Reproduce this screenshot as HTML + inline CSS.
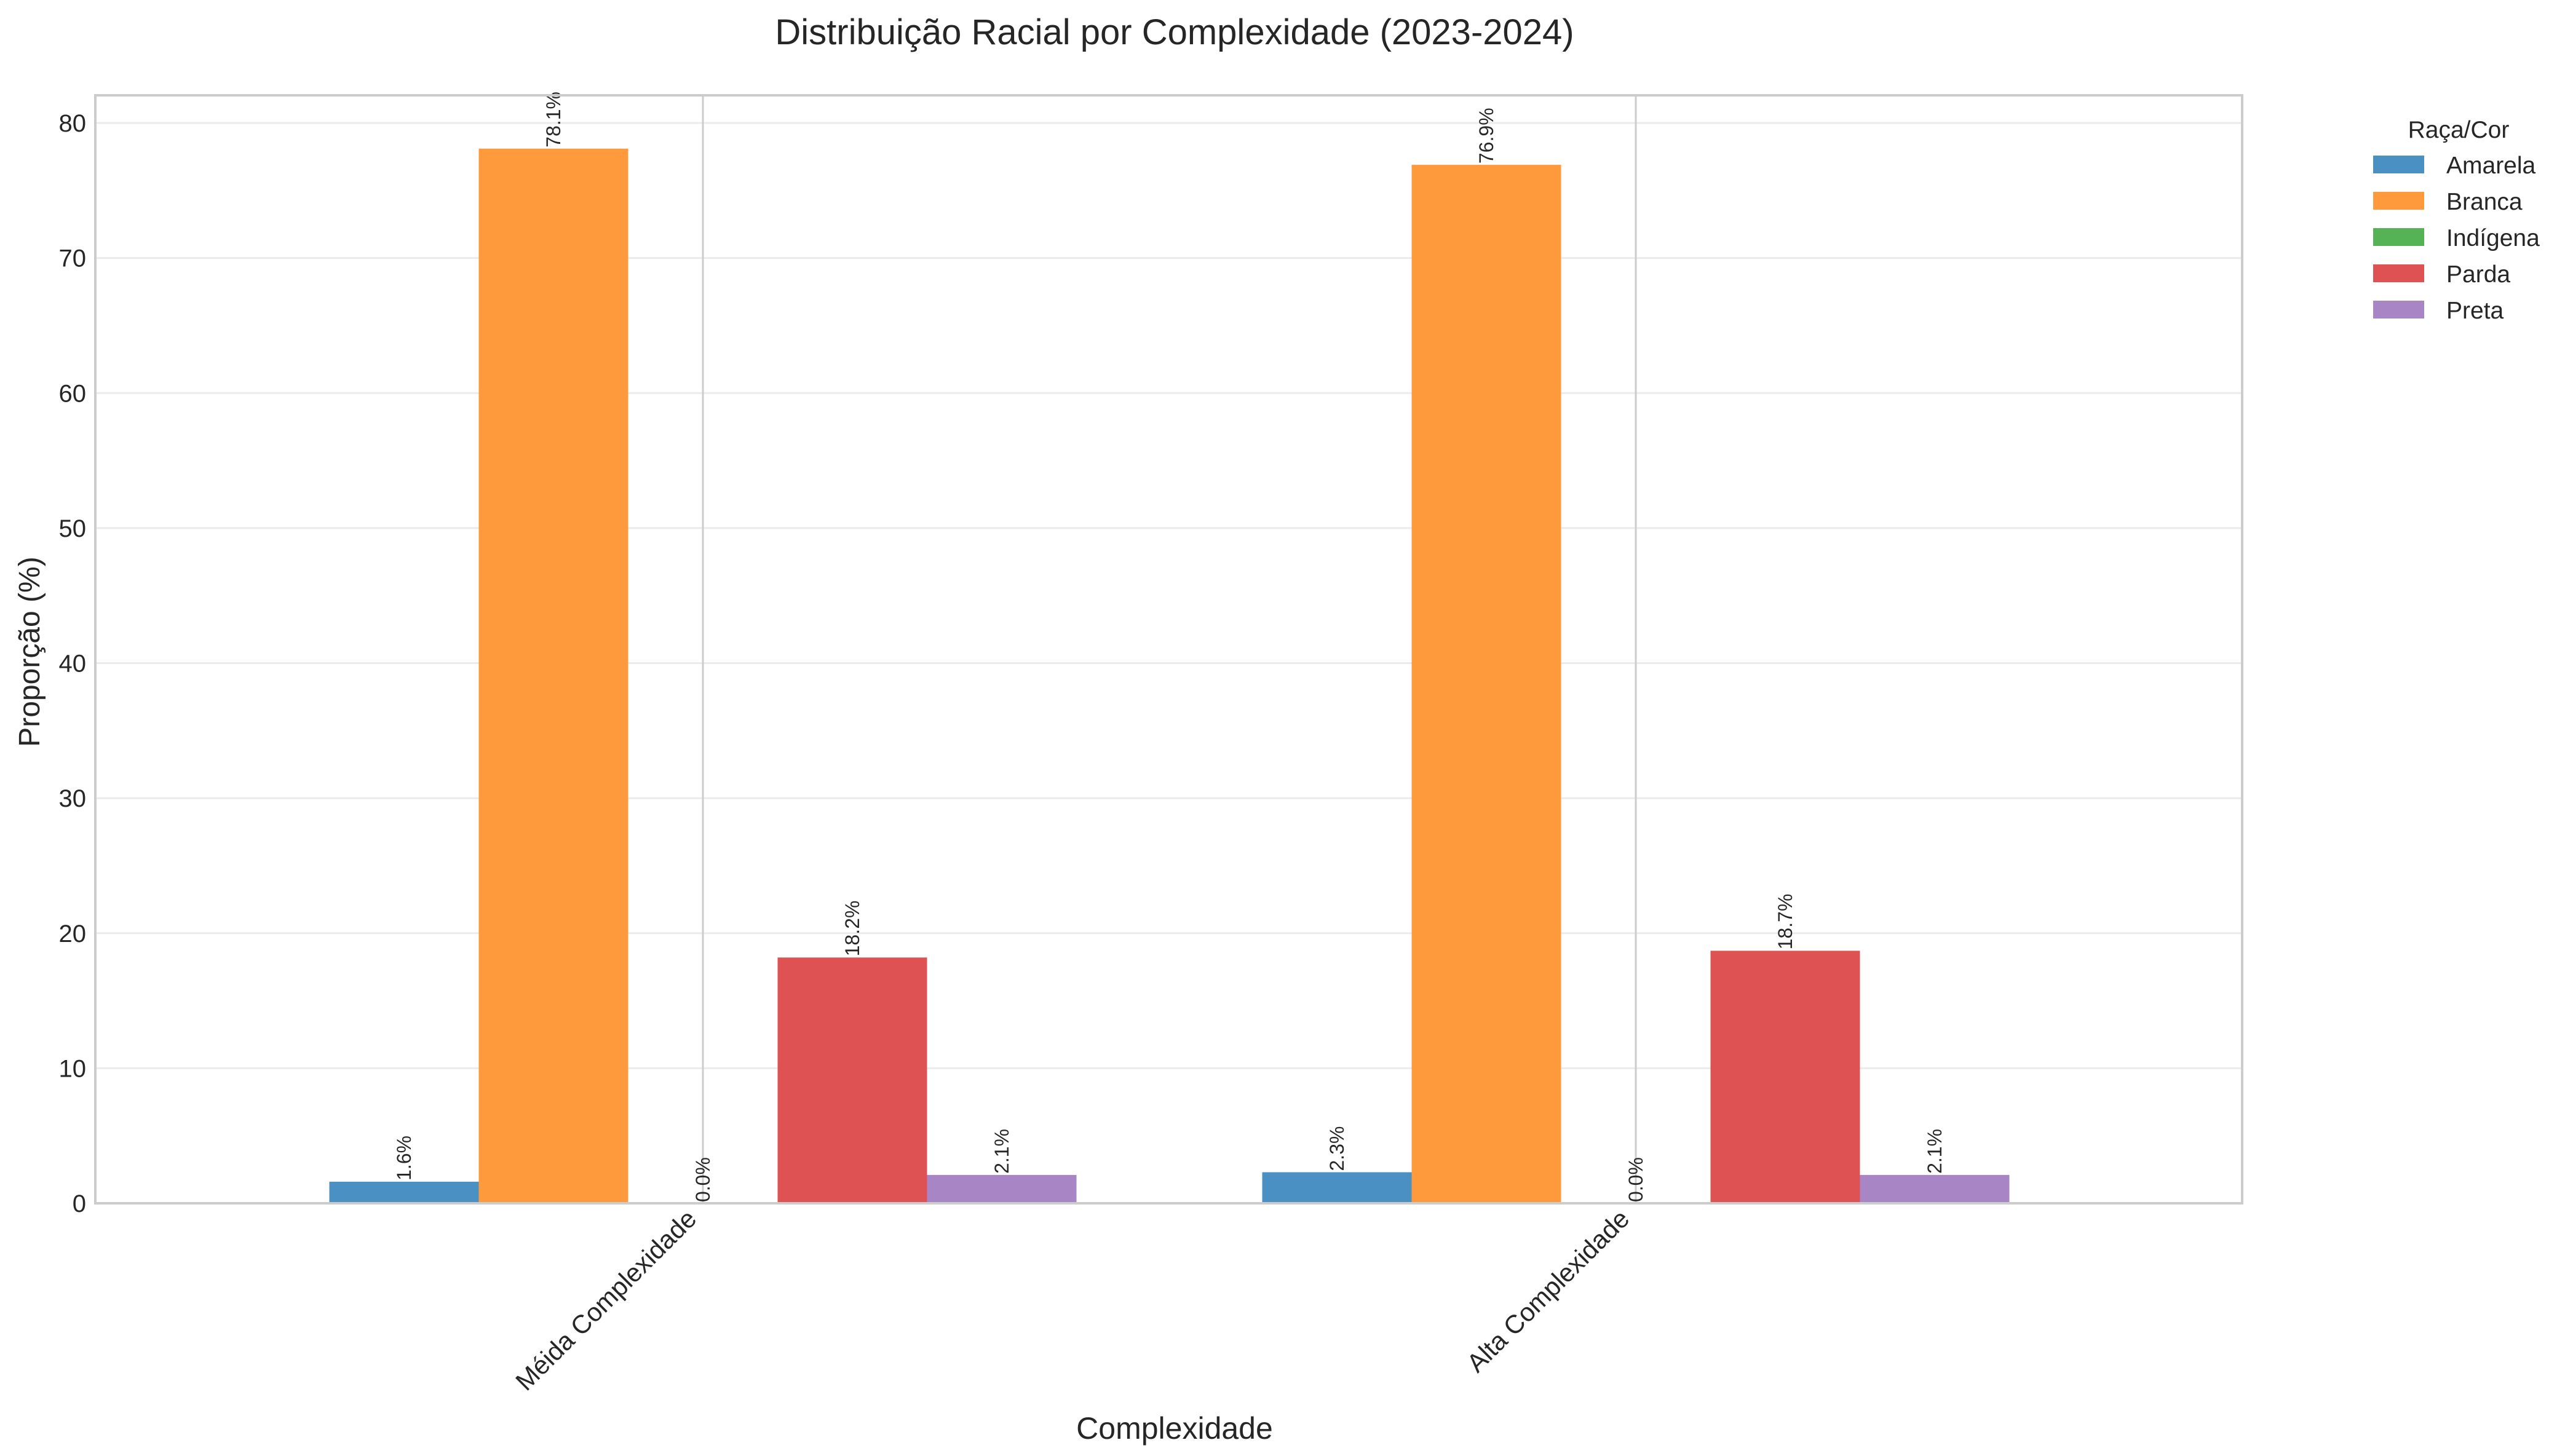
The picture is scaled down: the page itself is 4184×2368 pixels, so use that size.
<!DOCTYPE html>
<html><head><meta charset="utf-8"><style>
html,body{margin:0;padding:0;background:#fff;}
svg{display:block;font-family:"Liberation Sans",Arial,sans-serif;}
</style></head><body>
<svg id="chart" width="4184" height="2368" viewBox="0 0 4184 2368" xmlns="http://www.w3.org/2000/svg">
<g id="grid"></g><g id="bars"></g><g id="labels"></g><g id="axes"></g>
<text x="1910" y="72" text-anchor="middle" font-size="58" fill="#262626">Distribuição Racial por Complexidade (2023-2024)</text>
<text x="1910" y="2340" text-anchor="middle" font-size="50" fill="#262626">Complexidade</text>
<text transform="translate(64,1060) rotate(-90)" text-anchor="middle" font-size="48" fill="#262626">Proporção (%)</text>
<g id="legend"></g>
</svg>
<script>
const categories = ["Méida Complexidade", "Alta Complexidade"];
const seriesNames = ["Amarela", "Branca", "Indígena", "Parda", "Preta"];
const amarela = [1.6, 2.3];
const branca = [78.1, 76.9];
const indigena = [0.0, 0.0];
const parda = [18.2, 18.7];
const preta = [2.1, 2.1];
const yTicks = [0, 10, 20, 30, 40, 50, 60, 70, 80];

const series = [amarela, branca, indigena, parda, preta];
const colors = ["#4a90c2", "#ff9a3c", "#55b355", "#de5254", "#a886c6"];
const NS = "http://www.w3.org/2000/svg";
const L = 155, R = 3646, T = 155, B = 1957;
const xScale = i => 1143 + i * 1517;
const yScale = v => B - v * (B - 200) / 80;
const barW = 243;
function mk(tag, attrs, parent) {
  const e = document.createElementNS(NS, tag);
  for (const k in attrs) e.setAttribute(k, attrs[k]);
  parent.appendChild(e);
  return e;
}
const grid = document.getElementById("grid");
const bars = document.getElementById("bars");
const labels = document.getElementById("labels");
const axes = document.getElementById("axes");
yTicks.forEach(t => {
  const y = yScale(t);
  const g = mk("line", {x1: L, x2: R, y1: y, y2: y, stroke: "#ebebeb", "stroke-width": 3}, grid);
  
  
  const tx = mk("text", {x: 140, y: y + 14, "text-anchor": "end", "font-size": 40, fill: "#262626"}, axes);
  tx.textContent = t;
  
  
});
categories.forEach((c, i) => {
  const x = xScale(i);
  const v = mk("line", {x1: x, x2: x, y1: T, y2: B, stroke: "#cccccc", "stroke-width": 3}, grid);
  
  
  const tl = mk("text", {transform: `translate(${x - 8},${B + 28}) rotate(-45)`, "text-anchor": "end", "font-size": 42, fill: "#262626"}, axes);
  tl.textContent = c;
  
  
});
series.forEach((vals, s) => {
  vals.forEach((v, i) => {
    const cx = xScale(i) + (s - 2) * barW;
    const y = yScale(v);
    const r = mk("rect", {x: cx - barW / 2, y: y, width: barW, height: B - y, fill: colors[s]}, bars);
    
    
    const t = mk("text", {transform: `translate(${cx + 11},${y - 2}) rotate(-90)`, "font-size": 32, fill: "#262626"}, labels);
    t.textContent = v.toFixed(1) + "%";
    
    
  });
});
const frame = mk("rect", {x: L, y: T, width: R - L, height: B - T, fill: "none", stroke: "#cccccc", "stroke-width": 4}, axes);


const lg = document.getElementById("legend");
const lt = mk("text", {x: 3998, y: 224, "text-anchor": "middle", "font-size": 39, fill: "#262626"}, lg);
lt.textContent = "Raça/Cor";


seriesNames.forEach((n, s) => {
  const y = 253 + s * 59;
  const p = mk("rect", {x: 3859, y: y, width: 83, height: 29, fill: colors[s]}, lg);
  
  
  const t = mk("text", {x: 3978, y: y + 29, "font-size": 39, fill: "#262626"}, lg);
  t.textContent = n;
  
  
});
</script>
</body></html>
